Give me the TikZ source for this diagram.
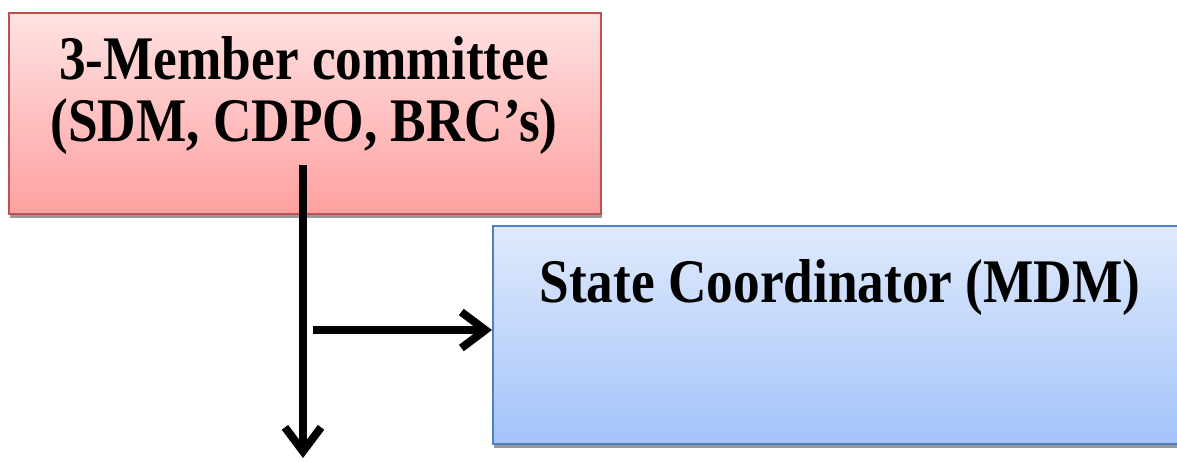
\documentclass[tikz,border=0pt]{standalone}
\usepackage{fontspec}
\setmainfont{Liberation Serif}[FakeStretch=0.86]
\usetikzlibrary{arrows.meta,shadows}
\definecolor{redtop}{RGB}{255,226,226}
\definecolor{redbot}{RGB}{255,160,160}
\definecolor{redline}{RGB}{192,80,77}
\definecolor{bluetop}{RGB}{223,234,252}
\definecolor{bluebot}{RGB}{164,195,250}
\definecolor{blueline}{RGB}{79,129,189}
\tikzset{
  boxshape/.style={draw, line width=2pt, inner sep=0pt, anchor=north west,
    drop shadow={shadow xshift=1pt, shadow yshift=-4pt, fill=black!40, opacity=1}},
  redbox/.style={boxshape, draw=redline, top color=redtop, bottom color=redbot},
  bluebox/.style={boxshape, draw=blueline, top color=bluetop, bottom color=bluebot},
  boxtext/.style={font=\bfseries\fontsize{62}{62}\selectfont, align=center, inner sep=0pt},
  flow/.style={line width=8pt, draw=black,
    -{Straight Barb[length=24pt,width=36pt,line width=8pt]},
    preaction={draw=black!30, transform canvas={shift={(2pt,-3pt)}}}}
}
\begin{document}
\begin{tikzpicture}[x=1pt,y=-1pt]
\useasboundingbox (0,0) rectangle (1177,461);
\node[redbox, minimum width=592pt, minimum height=201pt] (cmt) at (8,12) {};
\node[bluebox, minimum width=690pt, minimum height=218pt] (sc) at (492,225) {};
\node[boxtext, anchor=north] (cmttext) at (304,36) {3-Member committee\\(SDM, CDPO, BRC’s)};
\node[boxtext, anchor=base] (sctext) at (840,302) {State Coordinator (MDM)};
\coordinate (vtop) at (303,165);
\coordinate (vend) at (303,458);
\coordinate (hstart) at (313,330);
\draw[flow] (vtop) -- (vend);
\draw[flow] (hstart) -- (sc.west |- hstart);
\end{tikzpicture}
\end{document}
